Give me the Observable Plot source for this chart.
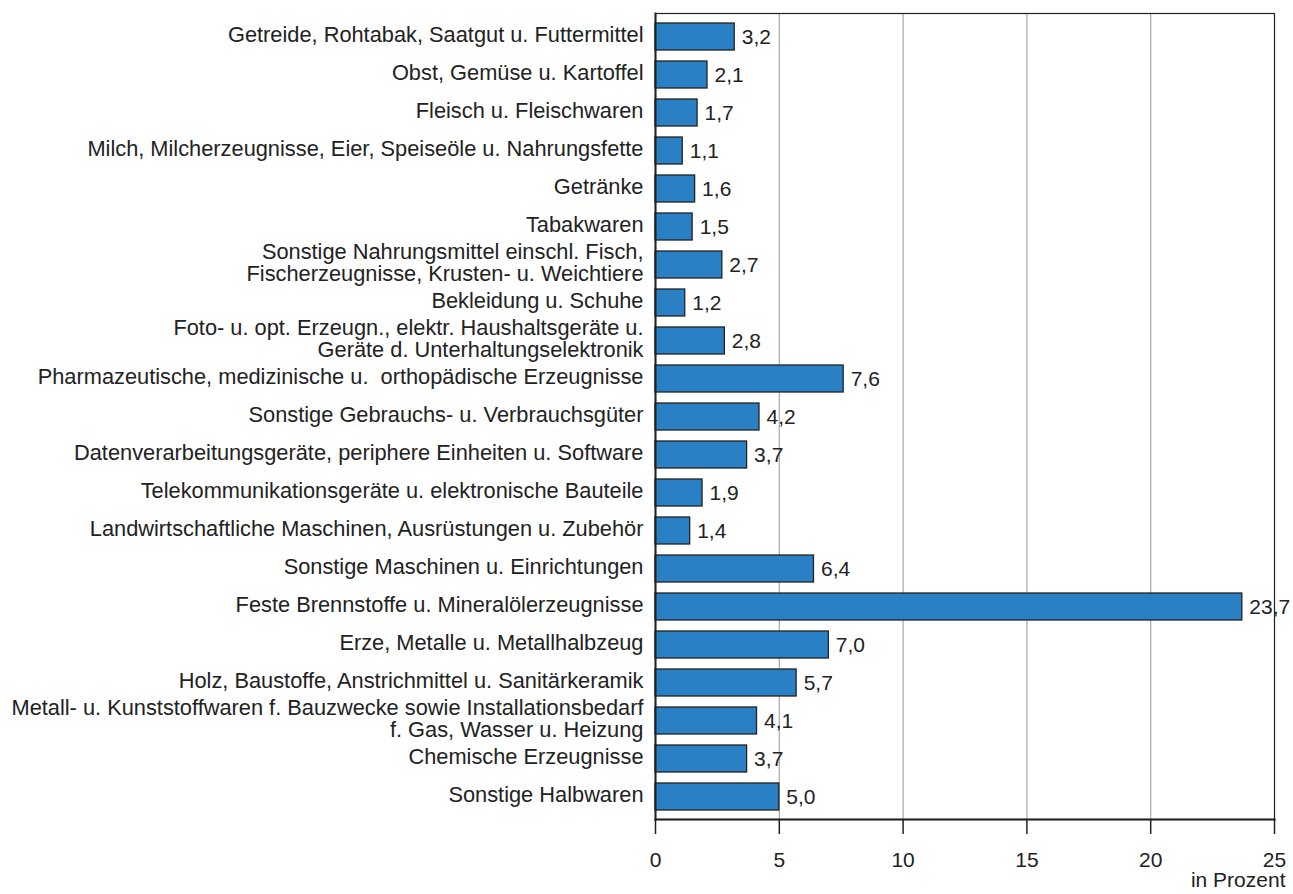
<!DOCTYPE html>
<html>
<head>
<meta charset="utf-8">
<script src="https://cdn.jsdelivr.net/npm/d3@7"></script>
<script src="https://cdn.jsdelivr.net/npm/@observablehq/plot@0.6"></script>
<style>
  html, body { margin: 0; padding: 0; background: #fff; }
  #chart svg { display: block; }
</style>
</head>
<body>
<div id="chart"></div>
<script>
const categories = [
  "Getreide, Rohtabak, Saatgut u. Futtermittel",
  "Obst, Gemüse u. Kartoffel",
  "Fleisch u. Fleischwaren",
  "Milch, Milcherzeugnisse, Eier, Speiseöle u. Nahrungsfette",
  "Getränke",
  "Tabakwaren",
  "Sonstige Nahrungsmittel einschl. Fisch,\nFischerzeugnisse, Krusten- u. Weichtiere",
  "Bekleidung u. Schuhe",
  "Foto- u. opt. Erzeugn., elektr. Haushaltsgeräte u.\nGeräte d. Unterhaltungselektronik",
  "Pharmazeutische, medizinische u.  orthopädische Erzeugnisse",
  "Sonstige Gebrauchs- u. Verbrauchsgüter",
  "Datenverarbeitungsgeräte, periphere Einheiten u. Software",
  "Telekommunikationsgeräte u. elektronische Bauteile",
  "Landwirtschaftliche Maschinen, Ausrüstungen u. Zubehör",
  "Sonstige Maschinen u. Einrichtungen",
  "Feste Brennstoffe u. Mineralölerzeugnisse",
  "Erze, Metalle u. Metallhalbzeug",
  "Holz, Baustoffe, Anstrichmittel u. Sanitärkeramik",
  "Metall- u. Kunststoffwaren f. Bauzwecke sowie Installationsbedarf\nf. Gas, Wasser u. Heizung",
  "Chemische Erzeugnisse",
  "Sonstige Halbwaren"
];
const values = [3.2, 2.1, 1.7, 1.1, 1.6, 1.5, 2.7, 1.2, 2.8, 7.6, 4.2, 3.7, 1.9, 1.4, 6.4, 23.7, 7.0, 5.7, 4.1, 3.7, 5.0];
const xTicks = [0, 5, 10, 15, 20, 25];
const gridTicks = [5, 10, 15, 20];
const axisLabel = "in Prozent";

const data = categories.map((c, i) => ({category: c, value: values[i]}));
const fmt = v => v.toFixed(1).replace(".", ",");

const chart = Plot.plot({
  width: 1293,
  height: 894,
  marginLeft: 655,
  marginRight: 19,
  marginTop: 13,
  marginBottom: 75,
  style: {fontFamily: "'Liberation Sans', Arial, Helvetica, sans-serif", fontSize: "21px", color: "#222", background: "#fff"},
  x: {domain: [0, 25]},
  y: {domain: categories, paddingInner: 0.3, paddingOuter: 0.15},
  marks: [
    Plot.gridX(gridTicks, {stroke: "#a8a8a8", strokeOpacity: 1, strokeWidth: 1.2}),
    Plot.barX(data, {x: "value", y: "category", fill: "#2a80c5", stroke: "#222", strokeWidth: 1.3}),
    Plot.text(data, {x: "value", y: "category", text: d => fmt(d.value), textAnchor: "start", dx: 7, fontSize: 21, fill: "#222"}),
    Plot.frame({stroke: "#222", strokeWidth: 1.2}),
    Plot.frame({anchor: "bottom", stroke: "#222", strokeWidth: 2.2}),
    Plot.frame({anchor: "left", stroke: "#222", strokeWidth: 2}),
    Plot.axisY({tickSize: 0, tickPadding: 12, fontSize: 21.8, lineHeight: 0.98, dy: -2, label: null, fill: "#222"}),
    Plot.axisX(xTicks, {tickSize: 15, tickPadding: 18, fontSize: 21, stroke: "#222", strokeWidth: 1.5, fill: "#222", label: null}),
    Plot.text([axisLabel], {frameAnchor: "bottom-right", textAnchor: "end", dx: 11, dy: 67, fontSize: 21, fill: "#222"})
  ]
});
document.getElementById("chart").appendChild(chart);
</script>
</body>
</html>
